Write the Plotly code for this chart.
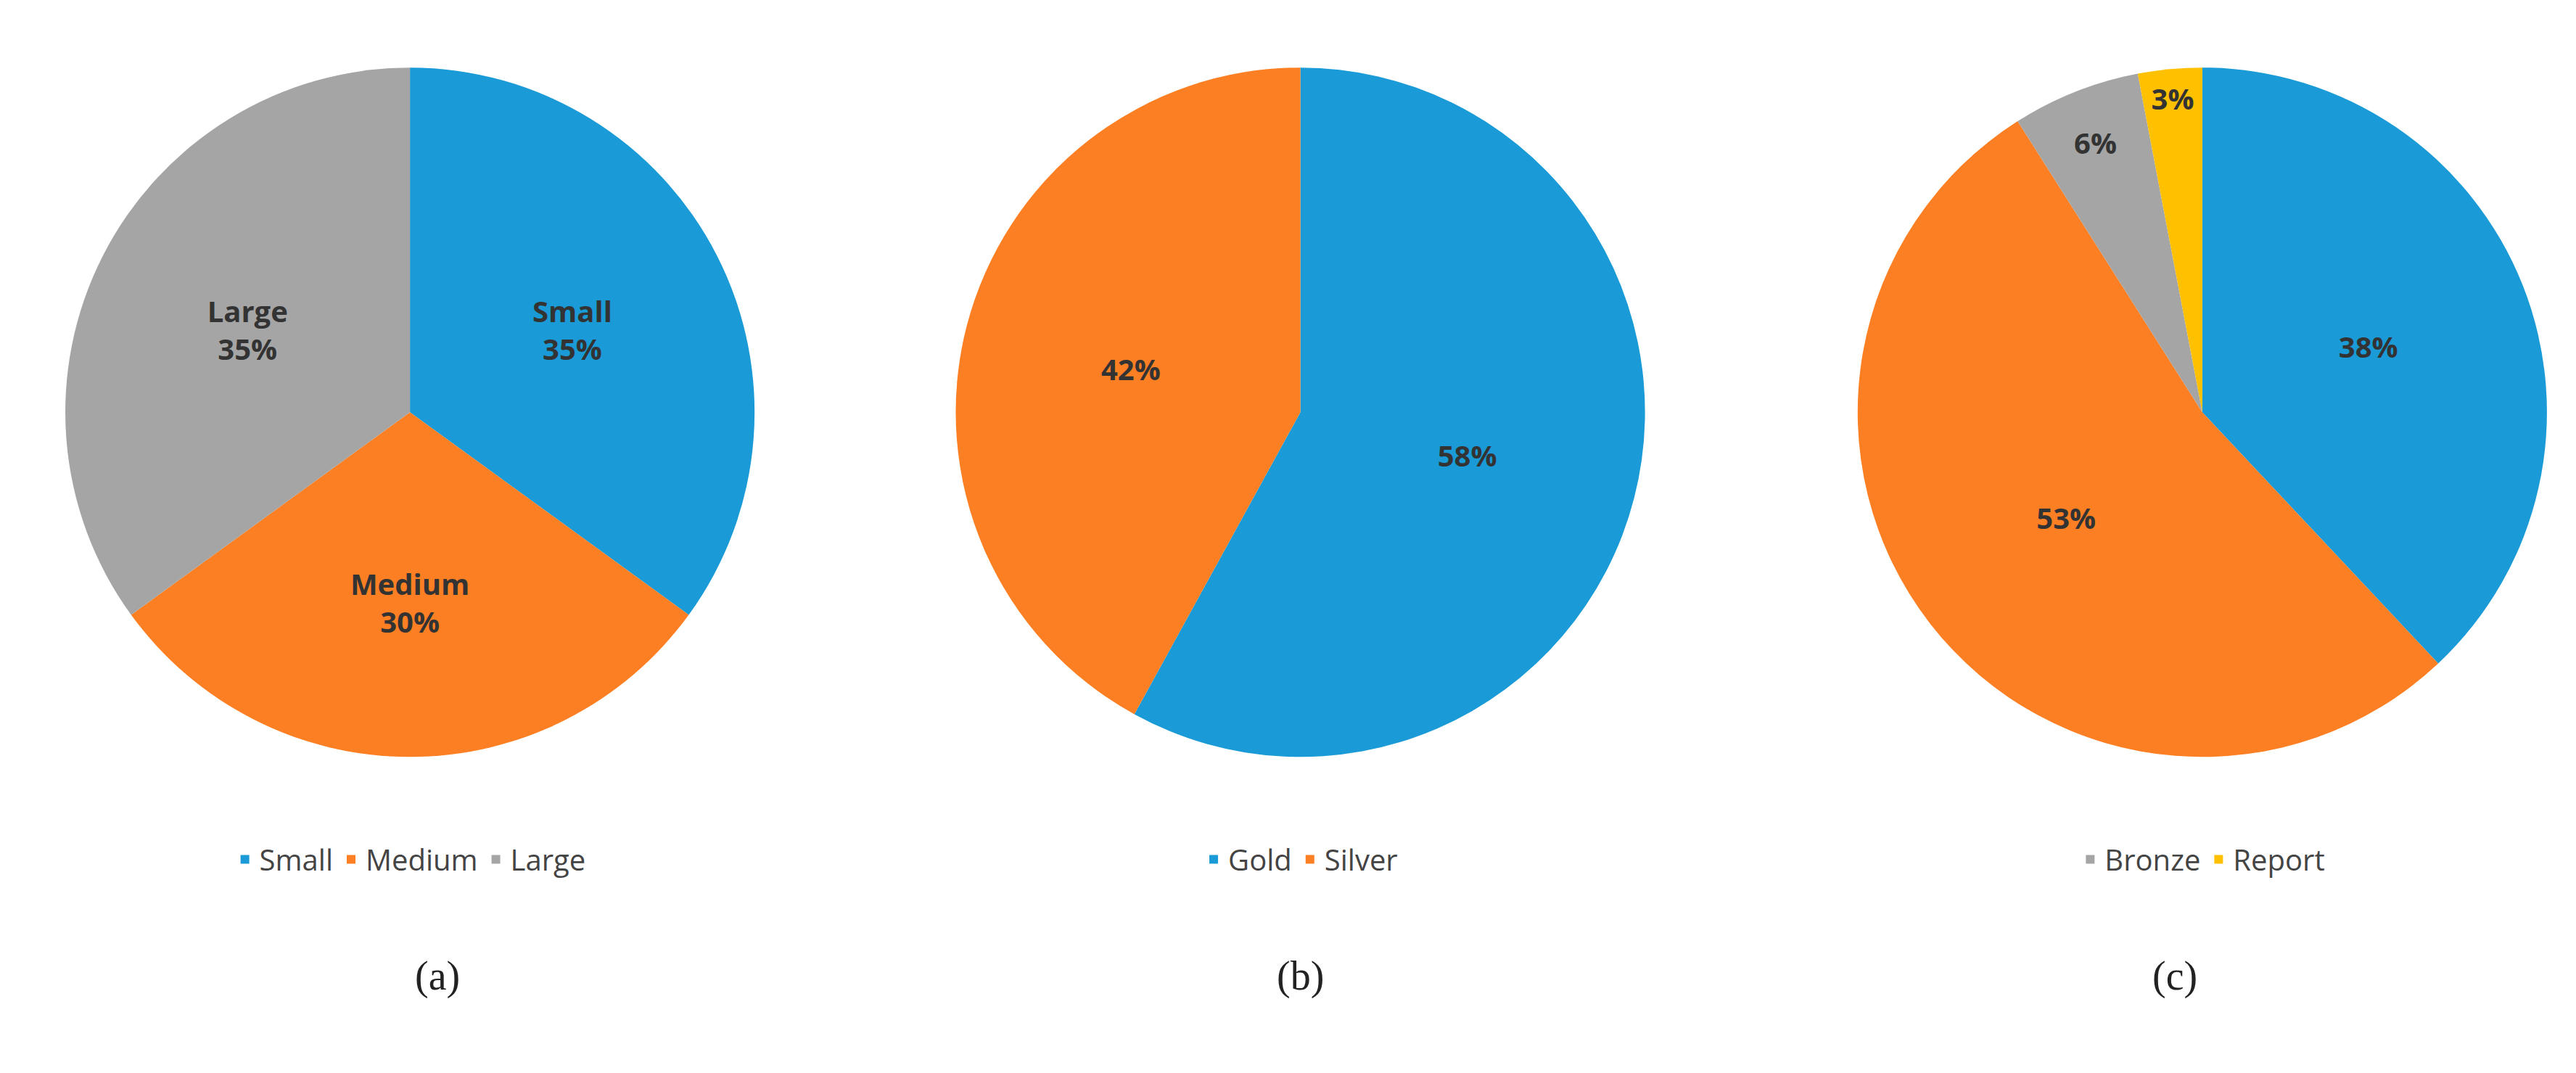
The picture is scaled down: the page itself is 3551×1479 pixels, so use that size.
import plotly.graph_objects as go

SIZE_LABELS = ["Small", "Medium", "Large"]
SIZE_VALUES = [35, 30, 35]
B_LABELS = ["Gold", "Silver"]
B_VALUES = [58, 42]
C_LABELS = ["Gold", "Silver", "Bronze", "Report"]
C_VALUES = [38, 53, 6, 3]
CAPTIONS = ["(a)", "(b)", "(c)"]

BLUE, ORANGE, GRAY, YELLOW = "#1a9ad6", "#fd7f23", "#a5a5a5", "#ffc000"

centers = [246 / 1568, 788 / 1568, 1337 / 1568]
rx, ry = 212 / 1568, 212 / 660
cy = 1 - 250 / 660

fig = go.Figure()

specs = [
    (SIZE_LABELS, SIZE_VALUES, [BLUE, ORANGE, GRAY], "label+percent", "legend"),
    (B_LABELS, B_VALUES, [BLUE, ORANGE], "percent", "legend2"),
    (C_LABELS, C_VALUES, [BLUE, ORANGE, GRAY, YELLOW], "percent", "legend3"),
]
for (labels, values, colors, info, leg), cx in zip(specs, centers):
    fig.add_trace(go.Pie(
        labels=labels, values=values, sort=False, direction="clockwise",
        rotation=0, marker=dict(colors=colors, line=dict(width=0)),
        textinfo=info, texttemplate="<b>%{label}<br>%{percent:.0%}</b>" if info != "percent" else "<b>%{percent:.0%}</b>",
        textposition="inside", insidetextorientation="horizontal",
        textfont=dict(size=40, color="#333333", family="Open Sans"),
        domain=dict(x=[cx - rx, cx + rx], y=[cy - ry, cy + ry]),
        legend=leg, hoverinfo="label+percent",
    ))

legend_style = dict(orientation="h", xanchor="center", yanchor="middle", y=1 - 525 / 660,
                    font=dict(size=40, color="#444444", family="Open Sans"),
                    bgcolor="rgba(0,0,0,0)", itemwidth=30)
fig.update_layout(
    width=3551, height=1479,
    margin=dict(l=0, r=0, t=0, b=0),
    paper_bgcolor="white",
    legend=dict(x=centers[0], **legend_style),
    legend2=dict(x=centers[1], **legend_style),
    legend3=dict(x=centers[2], **legend_style),
)
for cap, cx in zip(CAPTIONS, [248 / 1568, 788 / 1568, 1335 / 1568]):
    fig.add_annotation(text=cap, x=cx, y=1 - 612 / 660, xref="paper", yref="paper",
                       showarrow=False, font=dict(size=56, color="#222222", family="Liberation Serif"))

fig.write_html("out.html")
